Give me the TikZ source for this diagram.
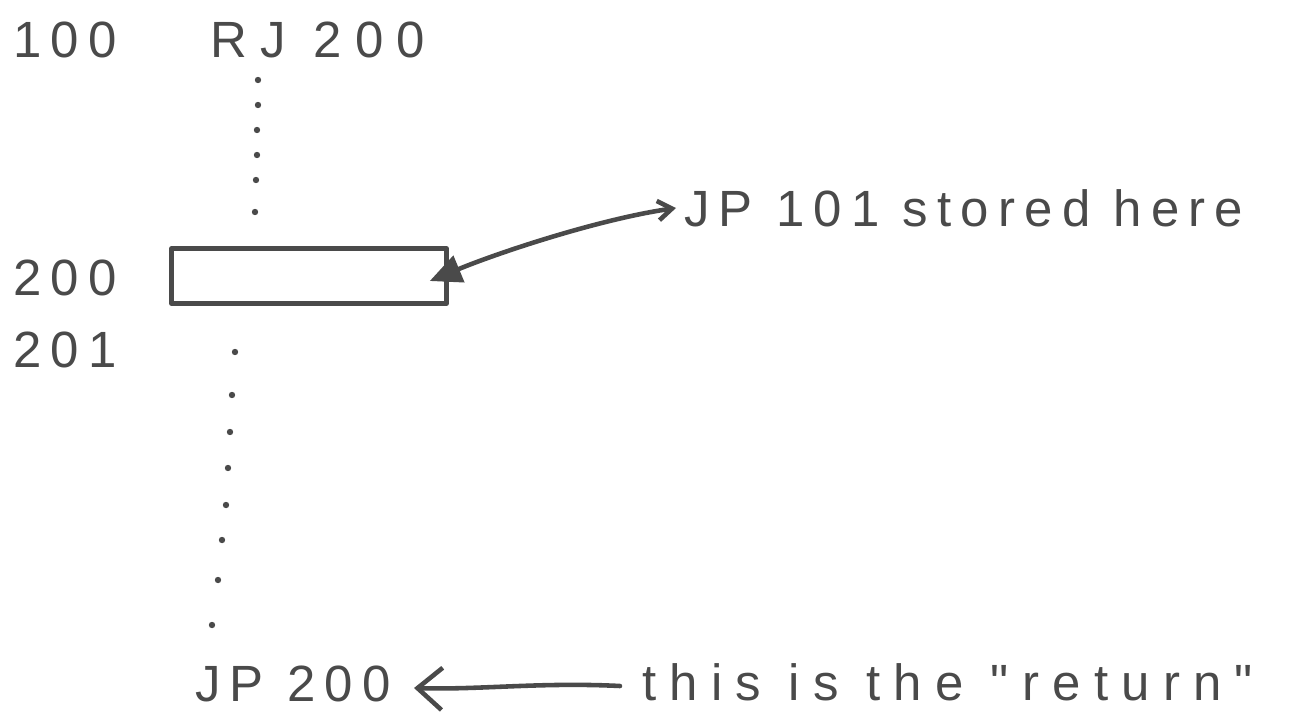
\documentclass[tikz,border=0pt]{standalone}
\usepackage{fontspec}
\setmainfont{Liberation Sans}[Ligatures=TeXOff]
\usetikzlibrary{arrows.meta}
\definecolor{ink}{HTML}{4A4A4A}
\begin{document}
\begin{tikzpicture}[x=0.02cm,y=-0.02cm,
  hand/.style={font=\fontsize{29}{31}\selectfont\addfontfeature{LetterSpace=18}, text=ink, inner sep=0pt, anchor=center},
  wide/.style={font=\fontsize{29}{31}\selectfont\addfontfeature{LetterSpace=26}},
  pen/.style={draw=ink, line width=2.6pt, line cap=round, line join=round},
  dotmark/.style={fill=ink}]
\useasboundingbox (0,0) rectangle (1294,713);
% labels
\node[hand] (l100) at (65,40) {100};
\node[hand, wide] (lrj) at (318,40) {RJ 200};
\node[hand] (l200) at (65,278) {200};
\node[hand] (l201) at (65,350) {201};
\node[hand, anchor=west] (stored) at (684,208) {JP 101 stored here};
\node[hand] (jp200) at (293,684) {JP 200};
\node[hand, wide, anchor=west] (ret) at (642,682) {this is the "return"};
% box
\node[pen, rectangle, minimum width=5.5cm, minimum height=1.1cm, inner sep=0pt] (box) at (309,276) {};
\coordinate (tipA) at ([xshift=-0.38cm, yshift=-0.1cm]box.east);
\coordinate (tipB) at (676,208);
\draw[pen, {Triangle[length=18pt,width=16pt]}-{Straight Barb[length=8pt,width=11pt]}] (tipA) .. controls (500,252) and (600,219) .. (tipB);
% bottom arrow
\coordinate (retstart) at (620,686);
\coordinate (retend) at (414,688);
\draw[pen, -{Straight Barb[length=14pt,width=24pt]}] (retstart) .. controls (540,682) and (480,690) .. (retend);
% dotted lines
\foreach \x/\y in {258/80,258/105,257/130,257/155,256/180,255/212}
  \fill[dotmark] (\x,\y) circle (3.2);
\foreach \x/\y in {235/352,232/395,230/432,228/468,226/505,222/540,218/580,212/625}
  \fill[dotmark] (\x,\y) circle (3.2);
\end{tikzpicture}
\end{document}
